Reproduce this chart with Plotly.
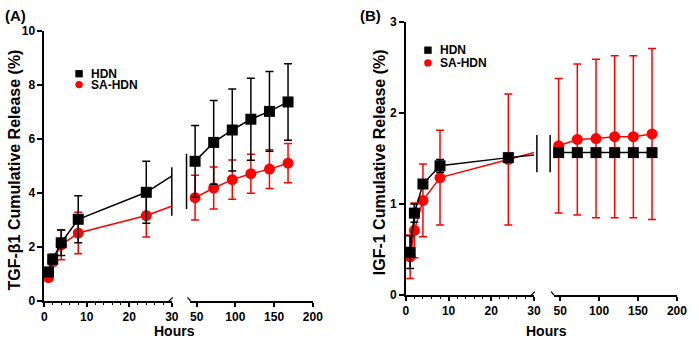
import plotly.graph_objects as go

# ---------------- data ----------------
hours_early = [1, 2, 4, 8, 24]
hours_late = [48, 72, 96, 120, 144, 168]

# Panel A: TGF-beta1 cumulative release (%)
a_hdn_early = [1.07, 1.54, 2.15, 3.02, 4.02]
a_hdn_early_err = [0.15, 0.18, 0.47, 0.87, 1.15]
a_hdn_late = [5.17, 5.87, 6.33, 6.73, 7.02, 7.37]
a_hdn_late_err = [1.33, 1.55, 1.52, 1.52, 1.48, 1.42]
a_sa_early = [0.86, 1.45, 2.07, 2.51, 3.16]
a_sa_early_err = [0.05, 0.15, 0.55, 0.77, 0.80]
a_sa_late = [3.82, 4.18, 4.49, 4.71, 4.88, 5.10]
a_sa_late_err = [0.83, 0.78, 0.73, 0.72, 0.72, 0.73]

# Panel B: IGF-1 cumulative release (%)
b_hdn_early = [0.47, 0.90, 1.22, 1.42, 1.51]
b_hdn_early_err = [0.18, 0.10, 0.03, 0.07, 0.02]
b_hdn_late = [1.565, 1.565, 1.565, 1.565, 1.565, 1.565]
b_hdn_late_err = [0.01, 0.01, 0.01, 0.01, 0.01, 0.01]
b_sa_early = [0.42, 0.71, 1.04, 1.29, 1.49]
b_sa_early_err = [0.24, 0.30, 0.40, 0.52, 0.72]
b_sa_late = [1.64, 1.71, 1.72, 1.74, 1.74, 1.77]
b_sa_late_err = [0.74, 0.83, 0.87, 0.89, 0.89, 0.94]

series_names = ["HDN", "SA-HDN"]
panel_labels = ["(A)", "(B)"]
y_titles = ["TGF-β1 Cumulative Release (%)", "IGF-1 Cumulative Release (%)"]
x_title = "Hours"

# ---------------- layout geometry (pixels) ----------------
W, H = 699, 350
BLACK = "#000000"
RED = "#ff0000"
FONT = "Liberation Sans, Arial, sans-serif"

LEFT_RANGE = [0, 30]
RIGHT_RANGE = [42, 200]

panels = [
    dict(L0=42, L1=172, R0=191, R1=315.7, ytop=25, ybot=306, yrange=[0, 10], dtick=2,
         xa="x", xb="x2", ya="y",
         hdn=(a_hdn_early, a_hdn_early_err, a_hdn_late, a_hdn_late_err),
         sa=(a_sa_early, a_sa_early_err, a_sa_late, a_sa_late_err),
         brk_left=(172, 3.15, 4.95), brk_right=(187, 3.4, 5.45),
         legend=(77.5, 69.5, 80.8), label_x=0, ytitle_x=12, hours_x=175),
    dict(L0=410.5, L1=541, R0=561.4, R1=686.7, ytop=15.7, ybot=300, yrange=[0, 3], dtick=1,
         xa="x3", xb="x4", ya="y2",
         hdn=(b_hdn_early, b_hdn_early_err, b_hdn_late, b_hdn_late_err),
         sa=(b_sa_early, b_sa_early_err, b_sa_late, b_sa_late_err),
         brk_left=(544, 1.35, 1.76), brk_right=(557.5, 1.35, 1.76),
         legend=(433, 45, 58.3), label_x=362, ytitle_x=383, hours_x=554),
]


def px(x):
    return x / W


def py(y):
    return 1 - y / H


fig = go.Figure()
shapes = []
annotations = []
layout = {}


def axis_key(ref, kind):
    n = ref[1:]
    return f"{kind}axis{n}"


for i, p in enumerate(panels):
    sL = (p["L1"] - p["L0"]) / (LEFT_RANGE[1] - LEFT_RANGE[0])
    sR = (p["R1"] - p["R0"]) / (RIGHT_RANGE[1] - RIGHT_RANGE[0])

    # connectors across the axis break (straight line in screen space)
    def connectors(v_early, v_late):
        x24, x48 = hours_early[-1], hours_late[0]
        p24 = p["L0"] + (x24 - LEFT_RANGE[0]) * sL
        p48 = p["R0"] + (x48 - RIGHT_RANGE[0]) * sR
        x48_left = LEFT_RANGE[0] + (p48 - p["L0"]) / sL
        x24_right = RIGHT_RANGE[0] + (p24 - p["R0"]) / sR
        return ([x24, x48_left], [v_early[-1], v_late[0]],
                [x24_right, x48], [v_early[-1], v_late[0]])

    for key, color, symbol, msize in [("sa", RED, "circle", 11), ("hdn", BLACK, "square", 11)]:
        ve, ee, vl, el = p[key]
        cl_x, cl_y, cr_x, cr_y = connectors(ve, vl)
        for xs, ys, xr in [(cl_x, cl_y, p["xa"]), (cr_x, cr_y, p["xb"])]:
            fig.add_trace(go.Scatter(x=xs, y=ys, xaxis=xr, yaxis=p["ya"], mode="lines",
                                     line=dict(color=color, width=1.5), showlegend=False,
                                     hoverinfo="skip"))
        for xs, vs, es, xr in [(hours_early, ve, ee, p["xa"]), (hours_late, vl, el, p["xb"])]:
            fig.add_trace(go.Scatter(
                x=xs, y=vs, xaxis=xr, yaxis=p["ya"], mode="lines+markers",
                line=dict(color=color, width=1.5),
                marker=dict(symbol=symbol, size=msize, color=color, line=dict(width=0)),
                error_y=dict(type="data", array=es, color=color, thickness=1.5, width=4),
                showlegend=False, cliponaxis=False))

    ydom = [py(p["ybot"]), py(p["ytop"])]
    tickfont = dict(family=FONT, size=12, color=BLACK, weight="bold")
    common_x = dict(showline=True, linecolor=BLACK, linewidth=1.5, ticks="outside", ticklen=4,
                    tickwidth=1.5, tickcolor=BLACK, showgrid=False, zeroline=False,
                    tickfont=tickfont, anchor=p["ya"], fixedrange=True)
    layout[axis_key(p["xa"], "x")] = dict(
        common_x, domain=[px(p["L0"]), px(p["L1"])], range=LEFT_RANGE,
        tickvals=[0, 10, 20, 30],
        minor=dict(dtick=2, ticks="outside", ticklen=2.5, tickwidth=1, tickcolor=BLACK))
    layout[axis_key(p["xb"], "x")] = dict(
        common_x, domain=[px(p["R0"]), px(p["R1"])], range=RIGHT_RANGE,
        tickvals=[50, 100, 150, 200])
    layout[axis_key(p["ya"], "y")] = dict(
        domain=ydom, range=p["yrange"], dtick=p["dtick"], showline=True, linecolor=BLACK,
        linewidth=1.5, ticks="outside", ticklen=5, tickwidth=1.5, tickcolor=BLACK,
        showgrid=False, zeroline=False, tickfont=tickfont, anchor=p["xa"], fixedrange=True)

    # break indicators across the data lines
    for (bx, y0, y1) in [p["brk_left"], p["brk_right"]]:
        shapes.append(dict(type="line", xref="paper", yref=p["ya"], x0=px(bx), x1=px(bx),
                           y0=y0, y1=y1, line=dict(color=BLACK, width=1.5)))
    # break glyphs on the x axis
    yb = p["ybot"]
    shapes.append(dict(type="line", xref="paper", yref="paper",
                       x0=px(p["L1"] - 3), y0=py(yb + 0.5), x1=px(p["L1"] + 1), y1=py(yb - 3.5),
                       line=dict(color=BLACK, width=1.2)))
    shapes.append(dict(type="line", xref="paper", yref="paper",
                       x0=px(p["R0"]), y0=py(yb), x1=px(p["R0"] - 3), y1=py(yb - 3.5),
                       line=dict(color=BLACK, width=1.2)))

    # legend drawn manually
    lx, ly1, ly2 = p["legend"]
    s = 3.8
    shapes.append(dict(type="rect", xref="paper", yref="paper", x0=px(lx - s), x1=px(lx + s),
                       y0=py(ly1 + s), y1=py(ly1 - s), fillcolor=BLACK, line=dict(width=0)))
    shapes.append(dict(type="circle", xref="paper", yref="paper", x0=px(lx - s), x1=px(lx + s),
                       y0=py(ly2 + s), y1=py(ly2 - s), fillcolor=RED, line=dict(width=0)))
    for name, yy in zip(series_names, [ly1, ly2]):
        annotations.append(dict(text=name, xref="paper", yref="paper", x=px(lx + 10), y=py(yy),
                                xanchor="left", yanchor="middle", showarrow=False,
                                font=dict(family=FONT, size=12, color=BLACK, weight="bold")))

    # panel label
    annotations.append(dict(text=panel_labels[i], xref="paper", yref="paper", x=px(p["label_x"]),
                            y=py(9), xanchor="left", yanchor="middle", showarrow=False,
                            font=dict(family=FONT, size=15, color=BLACK, weight="bold")))
    # y title
    annotations.append(dict(text=y_titles[i], xref="paper", yref="paper", x=px(p["ytitle_x"]),
                            y=py((p["ytop"] + p["ybot"]) / 2 + 4), xanchor="center",
                            yanchor="middle", textangle=-90, showarrow=False,
                            font=dict(family=FONT, size=16, color=BLACK, weight="bold")))
    # x title
    annotations.append(dict(text=x_title, xref="paper", yref="paper", x=px(p["hours_x"]),
                            y=py(337), xanchor="center", yanchor="middle", showarrow=False,
                            font=dict(family=FONT, size=14, color=BLACK, weight="bold")))

fig.update_layout(
    width=W, height=H, margin=dict(l=0, r=0, t=0, b=0),
    paper_bgcolor="white", plot_bgcolor="white", showlegend=False,
    shapes=shapes, annotations=annotations, **layout)

fig.write_html("out.html")
